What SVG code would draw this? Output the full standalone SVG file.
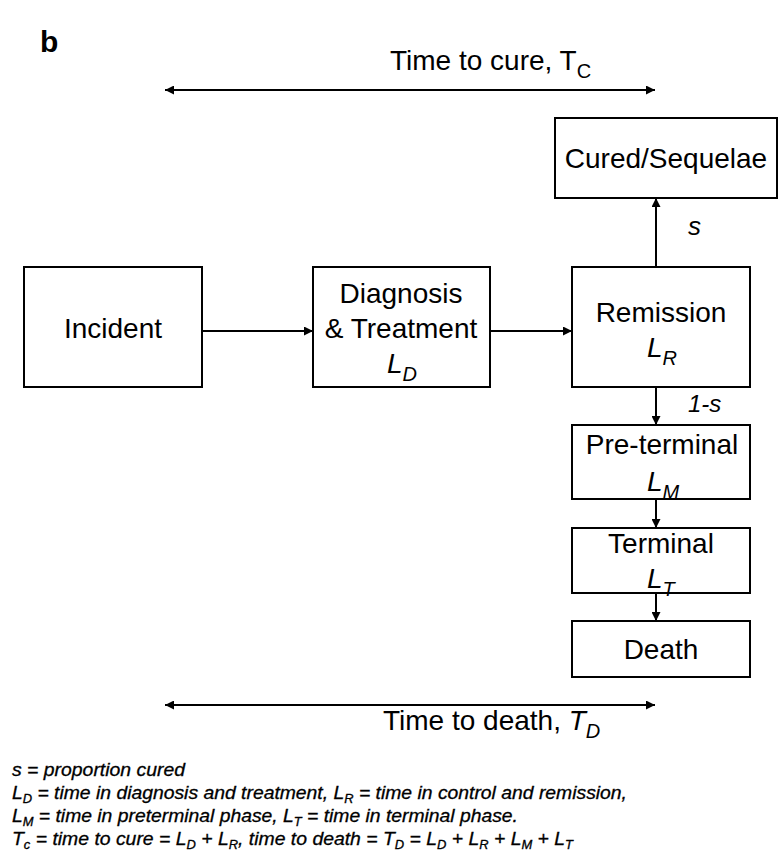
<svg xmlns="http://www.w3.org/2000/svg" width="779" height="859" viewBox="0 0 779 859">
<defs>
<style>
.box{fill:#fff;stroke:#000;stroke-width:2}
.t{font-family:"Liberation Sans",Arial,sans-serif;font-size:28px;fill:#000}
.i{font-style:italic}
.sub{font-size:20px}
.fn{font-family:"Liberation Sans",Arial,sans-serif;font-size:18px;font-style:italic;fill:#000;stroke:#000;stroke-width:0.3}
.fs{font-size:12px}
.ln{stroke:#000;stroke-width:2;fill:none}
</style>
<marker id="ah" viewBox="0 0 10 10" refX="10" refY="5" markerWidth="10" markerHeight="9" markerUnits="userSpaceOnUse" orient="auto-start-reverse">
<path d="M0,0 L10,5 L0,10 z" fill="#000"/>
</marker>
</defs>
<rect width="779" height="859" fill="#fff"/>
<text x="40" y="52" font-family="Liberation Sans,Arial,sans-serif" font-size="30" font-weight="bold">b</text>
<text class="t" x="390" y="70">Time to cure, T<tspan class="sub" dy="8">C</tspan></text>
<g id="connectors">
<line class="ln" x1="165" y1="90" x2="655" y2="90" marker-start="url(#ah)" marker-end="url(#ah)"/>
<line class="ln" x1="165" y1="705" x2="655" y2="705" marker-start="url(#ah)" marker-end="url(#ah)"/>
<line class="ln" x1="202" y1="331" x2="313" y2="331" marker-end="url(#ah)"/>
<line class="ln" x1="490" y1="331" x2="572" y2="331" marker-end="url(#ah)"/>
<line class="ln" x1="656" y1="267" x2="656" y2="198" marker-end="url(#ah)"/>
<line class="ln" x1="656" y1="387" x2="656" y2="425" marker-end="url(#ah)"/>
<line class="ln" x1="656" y1="499" x2="656" y2="528" marker-end="url(#ah)"/>
<line class="ln" x1="656" y1="593" x2="656" y2="621" marker-end="url(#ah)"/>
<text class="t i" x="688" y="235" style="font-size:26px">s</text>
<text class="t i" x="688" y="412" style="font-size:24px">1-s</text>
</g>
<g id="cured">
<rect class="box" x="555" y="118" width="222" height="80"/>
<text class="t" x="666" y="168" text-anchor="middle">Cured/Sequelae</text>
</g>
<g id="incident">
<rect class="box" x="24" y="267" width="178" height="120"/>
<text class="t" x="113" y="338" text-anchor="middle">Incident</text>
</g>
<g id="diagnosis">
<rect class="box" x="313" y="267" width="177" height="120"/>
<text class="t" x="401" y="303" text-anchor="middle">Diagnosis</text>
<text class="t" x="401" y="338" text-anchor="middle">&amp; Treatment</text>
<text class="t i" x="387" y="373">L<tspan class="sub" dy="8">D</tspan></text>
</g>
<g id="remission">
<rect class="box" x="572" y="267" width="178" height="120"/>
<text class="t" x="661" y="322" text-anchor="middle">Remission</text>
<text class="t i" x="647" y="357">L<tspan class="sub" dy="8">R</tspan></text>
</g>
<g id="preterminal">
<rect class="box" x="572" y="425" width="178" height="74"/>
<text class="t" x="662" y="454" text-anchor="middle">Pre-terminal</text>
<text class="t i" x="647" y="491">L<tspan class="sub" dy="8">M</tspan></text>
</g>
<g id="terminal">
<rect class="box" x="572" y="528" width="178" height="65"/>
<text class="t" x="661" y="553" text-anchor="middle">Terminal</text>
<text class="t i" x="647" y="588">L<tspan class="sub" dy="8">T</tspan></text>
</g>
<g id="death">
<rect class="box" x="572" y="621" width="178" height="56"/>
<text class="t" x="661" y="659" text-anchor="middle">Death</text>
</g>
<text class="t" x="383" y="730">Time to death, <tspan class="i">T</tspan><tspan class="i sub" dy="8">D</tspan></text>
<g id="footnote">
<text class="fn" x="12" y="776" textLength="173" lengthAdjust="spacingAndGlyphs">s = proportion cured</text>
<text class="fn" x="12" y="799" textLength="615" lengthAdjust="spacingAndGlyphs">L<tspan class="fs" dy="4">D</tspan><tspan dy="-4"> = time in diagnosis and treatment, L</tspan><tspan class="fs" dy="4">R</tspan><tspan dy="-4"> = time in control and remission,</tspan></text>
<text class="fn" x="12" y="822" textLength="506" lengthAdjust="spacingAndGlyphs">L<tspan class="fs" dy="4">M</tspan><tspan dy="-4"> = time in preterminal phase, L</tspan><tspan class="fs" dy="4">T</tspan><tspan dy="-4"> = time in terminal phase.</tspan></text>
<text class="fn" x="12" y="845" textLength="561" lengthAdjust="spacingAndGlyphs">T<tspan class="fs" dy="4">c</tspan><tspan dy="-4"> = time to cure = L</tspan><tspan class="fs" dy="4">D</tspan><tspan dy="-4"> + L</tspan><tspan class="fs" dy="4">R</tspan><tspan dy="-4">, time to death = T</tspan><tspan class="fs" dy="4">D</tspan><tspan dy="-4"> = L</tspan><tspan class="fs" dy="4">D</tspan><tspan dy="-4"> + L</tspan><tspan class="fs" dy="4">R</tspan><tspan dy="-4"> + L</tspan><tspan class="fs" dy="4">M</tspan><tspan dy="-4"> + L</tspan><tspan class="fs" dy="4">T</tspan></text>
</g>
</svg>
